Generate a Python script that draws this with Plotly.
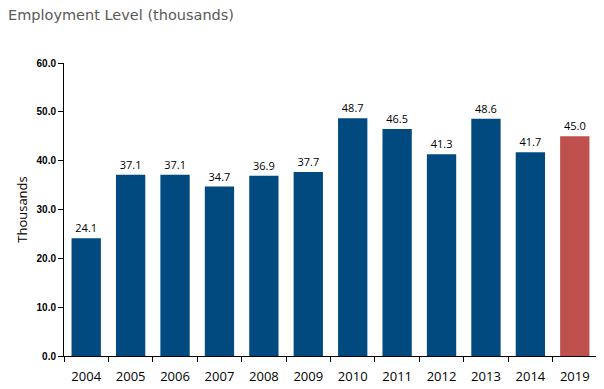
import plotly.graph_objects as go

years = ["2004", "2005", "2006", "2007", "2008", "2009", "2010", "2011", "2012", "2013", "2014", "2019"]
values = [24.1, 37.1, 37.1, 34.7, 36.9, 37.7, 48.7, 46.5, 41.3, 48.6, 41.7, 45.0]
y_ticks = [0, 10, 20, 30, 40, 50, 60]

colors = ["#004A80"] * (len(years) - 1) + ["#C0504D"]

fig = go.Figure(go.Bar(
    x=years, y=values,
    marker=dict(color=colors, line=dict(width=0)),
    width=0.66,
    text=[f"{v:.1f}" for v in values],
    textposition="outside",
    cliponaxis=False,
    textfont=dict(family="Open Sans, Liberation Sans, sans-serif", size=11, color="#000000"),
))

fig.update_layout(
    width=596, height=381,
    margin=dict(l=56, r=7, t=55, b=33),
    paper_bgcolor="white", plot_bgcolor="white",
    showlegend=False,
    title=dict(text="Employment Level (thousands)", x=0.0, xanchor="left", y=0.982, yanchor="middle",
               font=dict(family="DejaVu Sans, Verdana, sans-serif", size=14.5, color="#595959")),
)
fig.update_xaxes(
    type="category", showline=True, linecolor="#000000", linewidth=1,
    ticks="outside", tickson="boundaries", ticklen=5, tickcolor="#000000",
    ticklabelstandoff=8, automargin=False,
    tickfont=dict(family="Open Sans, Liberation Sans, sans-serif", size=13, color="#000000"),
    showgrid=False,
)
fig.update_yaxes(
    range=[0, 60], tickvals=y_ticks, ticktext=[f"{t:.1f}" for t in y_ticks],
    showline=True, linecolor="#000000", linewidth=1,
    ticks="outside", ticklen=5, tickcolor="#000000", automargin=False,
    tickfont=dict(family="Liberation Sans Narrow, Liberation Sans, sans-serif", size=10, color="#000000", weight="bold"),
    showgrid=False, zeroline=False,
    title=dict(text="Thousands", standoff=5,
               font=dict(family="Open Sans, Liberation Sans, sans-serif", size=13, color="#000000")),
)

fig.write_html("out.html")
